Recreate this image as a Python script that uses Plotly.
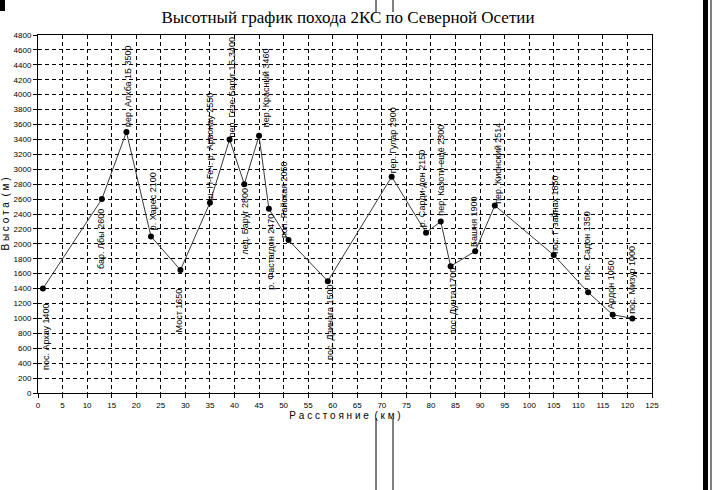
import plotly.graph_objects as go

# ---- data ----
distance_km = [1, 13, 18, 23, 29, 35, 39, 42, 45, 47, 51, 59, 72, 79, 82, 84, 89, 93, 105, 112, 117, 121]
altitude_m = [1400, 2600, 3500, 2100, 1650, 2550, 3400, 2800, 3450, 2470, 2050, 1500, 2900, 2150, 2300, 1700, 1900, 2514, 1850, 1350, 1050, 1000]
point_labels = [
    "пос. Архау 1400", "бар. Лбы 2600", "пер. Алхба 1Б 3500", "р. Харес 2100", "Мост 1650",
    "ш. Н-Геч. р. Арвонау 2550", "пер. Гезе-Баруг 1Б 3400", "лед. Баруг 2800", "пер. Красный 3460",
    "р. Фастагдон 2470", "пол. Райская 2050", "пос. Дзинага 1500", "пер. Гулар 2900",
    "р. Сарди-дон 2150", "пер. Казоти-ещё 2300", "пос. Дунта 1700", "Башня 1900",
    "пер. Кионский 2514", "пос. Г-зайнах 1850", "пос. Садон 1350", "Ардон 1050", "пос. Мизур 1000",
]
x_ticks = list(range(0, 130, 5))
y_ticks = list(range(0, 5000, 200))

# ---- label placement (style only) ----
label_side = ["b", "b", "a", "a", "b", "a", "a", "b", "a", "b", "a", "b", "a", "a", "a", "b", "a", "a", "a", "a", "a", "a"]
label_dx = [3, -1, 2, 2, -2, 0, 2, 1, 7, 2, -5, 2, 1, -4, 0, 2, -1, 3, 1, -1, -2, 0]
label_gap = [14, 10, 5, 6, 18, 2, 2, 4, 8, 5, 2, 3, 3, 5, 6, 1, 4, 2, 1, 12, 6, 5]

fig = go.Figure()
fig.add_trace(go.Scatter(
    x=distance_km, y=altitude_m, mode="lines+markers",
    line=dict(color="#3a3a3a", width=1),
    marker=dict(color="black", size=6, symbol="circle"),
    hoverinfo="x+y", showlegend=False,
))

annotations = []
for xv, yv, txt, side, dx, gap in zip(distance_km, altitude_m, point_labels, label_side, label_dx, label_gap):
    above = side == "a"
    annotations.append(dict(
        x=xv, y=yv, xref="x", yref="y", text=txt, showarrow=False, textangle=-90,
        xanchor="center", yanchor="bottom" if above else "top",
        xshift=dx, yshift=(gap - 1) if above else -(gap - 1),
        borderpad=0,
        font=dict(family="Liberation Sans, Arial", size=9, color="black"),
    ))

W, H = 713, 490
L, R, T, B = 38, 61, 35, 97
pw, ph = W - L - R, H - T - B

def px(xp):
    return (xp - L) / pw

def py(yp):
    return (H - B - yp) / ph

shape_line = dict(color="black", width=1)
shapes = [
    dict(type="line", xref="paper", yref="paper", x0=px(376), x1=px(376), y0=py(0), y1=py(12), line=shape_line),
    dict(type="line", xref="paper", yref="paper", x0=px(393), x1=px(393), y0=py(0), y1=py(12), line=shape_line),
    dict(type="line", xref="paper", yref="paper", x0=px(376), x1=px(376), y0=py(418), y1=py(490), line=shape_line),
    dict(type="line", xref="paper", yref="paper", x0=px(393), x1=px(393), y0=py(418), y1=py(490), line=shape_line),
    dict(type="rect", xref="paper", yref="paper", x0=px(0), x1=px(5), y0=py(0), y1=py(11), fillcolor="black", line=dict(width=0)),
    dict(type="rect", xref="paper", yref="paper", x0=px(703), x1=px(708), y0=py(0), y1=py(490), fillcolor="black", line=dict(width=0)),
    dict(type="line", xref="paper", yref="paper", x0=px(711), x1=px(711), y0=py(0), y1=py(490), line=shape_line),
]

tick_font = dict(family="Liberation Sans, Arial", size=8, color="black")
fig.update_layout(
    width=W, height=H,
    margin=dict(l=L, r=R, t=T, b=B, pad=0),
    paper_bgcolor="white", plot_bgcolor="white",
    title=dict(text="Высотный график похода 2КС по Северной Осетии",
               x=348 / W, xanchor="center", y=1 - 17 / H, yanchor="middle",
               font=dict(family="Liberation Serif, Times New Roman", size=17, color="black")),
    xaxis=dict(range=[0, 125], tickvals=x_ticks, ticktext=[str(v) for v in x_ticks],
               automargin=False,
               showgrid=True, gridcolor="black", griddash="4px,3px", gridwidth=1,
               showline=True, linecolor="black", linewidth=1, mirror=True,
               ticks="outside", ticklen=4, tickcolor="black", tickfont=tick_font,
               zeroline=False,
               title=dict(text="Р а с с т о я н и е  ( к м )", standoff=2,
                          font=dict(family="Liberation Sans, Arial", size=10, color="black"))),
    yaxis=dict(range=[0, 4800], tickvals=y_ticks, ticktext=[str(v) for v in y_ticks],
               automargin=False,
               showgrid=True, gridcolor="black", griddash="4px,3px", gridwidth=1,
               showline=True, linecolor="black", linewidth=1, mirror=True,
               ticks="outside", ticklen=4, tickcolor="black", tickfont=tick_font,
               zeroline=False,
               title=dict(text="В ы с о т а  ( м )", standoff=4,
                          font=dict(family="Liberation Sans, Arial", size=10, color="black"))),
    annotations=annotations,
    shapes=shapes,
)

fig.write_html("out.html", config={"displayModeBar": False},
               post_script="document.body.style.margin='0';document.body.style.overflow='hidden';")
